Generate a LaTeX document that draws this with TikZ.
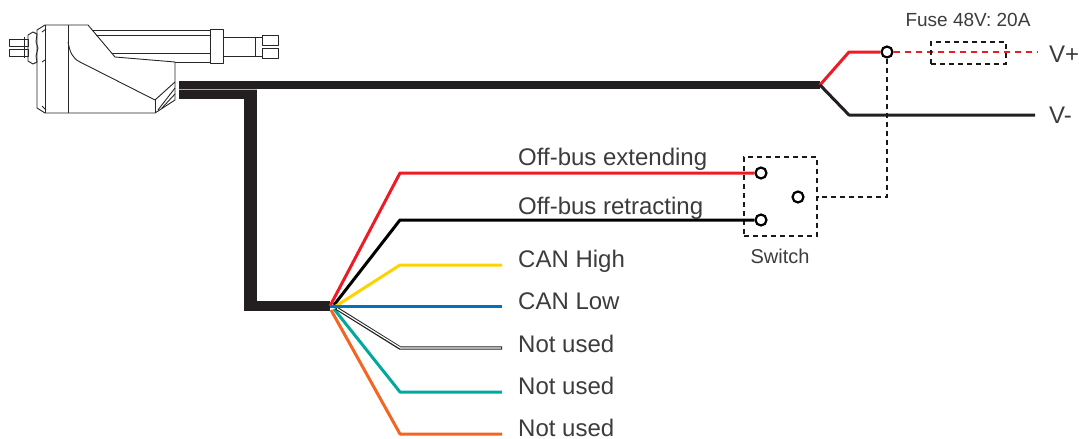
\documentclass[tikz,border=0pt]{standalone}
\usepackage{fontspec}
\setmainfont{Liberation Sans}
\definecolor{cablecol}{HTML}{231F20}
\definecolor{wred}{HTML}{ED1C24}
\definecolor{wyellow}{HTML}{FFD200}
\definecolor{wblue}{HTML}{0072BC}
\definecolor{wteal}{HTML}{00A99D}
\definecolor{worange}{HTML}{F26522}
\definecolor{textgray}{HTML}{3C3C3C}
\begin{document}
\begin{tikzpicture}[x=1pt,y=-1pt,
  wire/.style={line width=3pt, line join=round},
  lbl/.style={anchor=base west, inner sep=0pt, text=textgray, font=\fontsize{24}{28}\selectfont},
  small/.style={anchor=base, inner sep=0pt, text=textgray, font=\fontsize{20}{24}\selectfont},
  contact/.style={circle, draw=black, line width=2.2pt, fill=white, minimum size=11pt, inner sep=0pt},
  dashline/.style={draw=black!90, line width=2.6pt, dash pattern=on 5pt off 4pt},
  body/.style={draw=black!85, line width=0.9pt, line join=round}]
\useasboundingbox (0,0) rectangle (1079,439);

% ---- actuator ----
% rod stubs on the rear clevis
\draw[body] (9,39) rectangle (28,46);
\draw[body] (9,49) rectangle (28,56);
\draw[body] (24,37) -- (24,58);
% rear gear housing
\draw[body] (28,35) -- (33,32) -- (37,34) -- (36,42) -- (38,48) -- (36,56) -- (37,62) -- (33,64) -- (28,61) -- cycle;
% motor body
\draw[body] (45,25) -- (88,25) -- (115,57) -- (175,62) -- (175,100) -- (155,113) -- (45,113) -- (37,108) -- (37,30) -- cycle;
\draw[body] (45,25) -- (45,113);
\draw[body] (68,25) -- (68,113);
\draw[body] (68,42) .. controls (70,52) and (72,58) .. (80,62) -- (155,100) -- (175,82);
\draw[body] (155,100) -- (155,113);
\draw[body] (158,110) -- (175,88);
\draw[body] (162,108) -- (175,94);
\draw[body] (42,32) -- (46,29) (42,106) -- (46,110) (42,62) -- (45,60);
% outer tube
\draw[body] (92,30) -- (210,30);
\draw[body] (96,35) -- (210,35);
\draw[body] (112,53) -- (210,53);
\draw[body] (175,62) -- (210,62);
\draw[body] (210,29) rectangle (223,63);
% piston rod and front clevis
\draw[body] (223,37) -- (262,37) (223,56) -- (262,56);
\draw[body] (255,37) -- (255,56);
\draw[body] (262,35) rectangle (278,45);
\draw[body] (262,48) rectangle (278,58);

% ---- main cable ----
\coordinate (split) at (820,85);
\coordinate (fan) at (330,306);
\fill[cablecol] (179,81) rectangle (820,89);
\fill[cablecol] (179,89) rectangle (257,99);
\fill[cablecol] (244,99) rectangle (257,311);
\fill[cablecol] (244,301) rectangle (330,311);
\draw[gray!60, line width=0.6pt] (179,89) -- (257,89);

% ---- supply end ----
\node[contact] (vp) at (887,52) {};
\coordinate (vpend) at (1037,52);
\coordinate (vmend) at (1035,115);
\draw[wire, wred] (split) -- (849,52) -- (vp.west);
\draw[wire, cablecol] (split) -- (849,115) -- (vmend);
\draw[wred, line width=2pt, dash pattern=on 6pt off 5pt] (vp.east) -- (vpend);
\node[dashline, line width=2pt, minimum width=75pt, minimum height=22pt, inner sep=0pt] (fuse) at (968.5,53) {};
\node[small, font=\fontsize{19}{24}\selectfont] (fuselbl) at (968,27) {Fuse 48V: 20A};
\node[lbl] (vplbl) at (1049,62) {V+};
\node[lbl] (vmlbl) at (1049,123) {V-};

% ---- switch ----
\node[dashline, minimum width=73pt, minimum height=79pt, inner sep=0pt] (sw) at (780.5,196.5) {};
\node[small] (swlbl) at (780,263) {Switch};
\node[contact] (ext) at (761,173) {};
\node[contact] (ret) at (761,220) {};
\node[contact] (com) at (798,197) {};
\draw[dashline] (vp.south) -- (887,197) -- (sw.east |- 887,197);

% ---- fanned-out wires ----
\draw[wire, wred] (fan) -- (400,173) -- (ext.west);
\draw[wire, black] (334,305) -- (400,220) -- (ret.west);
\coordinate (yend) at (502,265);
\coordinate (bend) at (502,306);
\coordinate (wend) at (502,348);
\coordinate (tend) at (502,392);
\coordinate (oend) at (502,434);
\draw[wire, wyellow] (336,306) -- (400,265) -- (yend);
\draw[wire, wteal] (334,309) -- (400,392) -- (tend);
\draw[wire, worange] (331,310) -- (400,434) -- (oend);
\draw[line width=3.4pt, cablecol] (336,308) -- (400,348) -- (wend);
\draw[line width=1.2pt, white] (337,308.6) -- (400.5,348) -- (501,348);
\draw[wire, wblue] (fan) -- (bend);

% ---- labels ----
\node[lbl] (l1) at (518,165) {Off-bus extending};
\node[lbl] (l2) at (518,214) {Off-bus retracting};
\node[lbl] (l3) at (518,267) {CAN High};
\node[lbl] (l4) at (518,309) {CAN Low};
\node[lbl] (l5) at (518,352) {Not used};
\node[lbl] (l6) at (518,394) {Not used};
\node[lbl] (l7) at (518,436) {Not used};
\end{tikzpicture}
\end{document}
